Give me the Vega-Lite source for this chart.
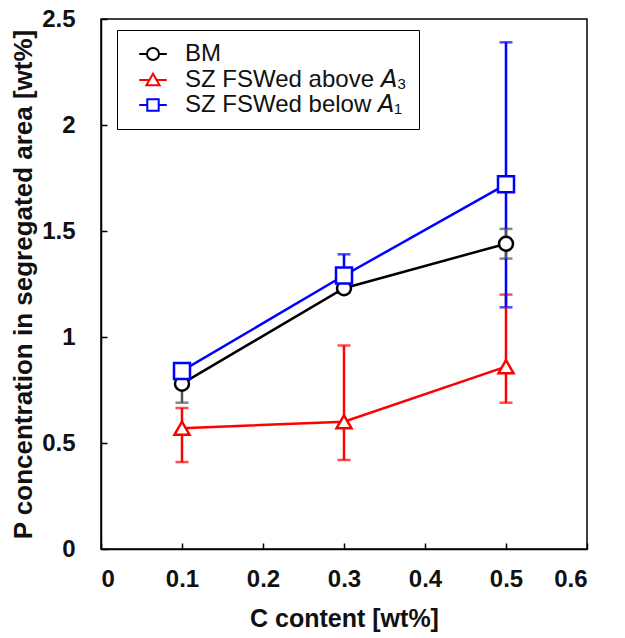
{
  "$schema": "https://vega.github.io/schema/vega-lite/v6.json",
  "width": 486,
  "height": 530,
  "autosize": {"type": "none"},
  "padding": {"left": 101, "top": 19, "right": 38, "bottom": 89},
  "background": "white",
  "config": {
    "font": "Liberation Sans",
    "view": {"stroke": "black", "strokeWidth": 1.5},
    "axis": {
      "grid": false,
      "domainColor": "black",
      "domainWidth": 1.5,
      "tickColor": "black",
      "tickWidth": 1.5,
      "tickSize": -6,
      "labelFont": "Liberation Sans",
      "labelFontWeight": "bold",
      "labelFontSize": 24,
      "labelColor": "#111111",
      "titleFont": "Liberation Sans",
      "titleFontWeight": "bold",
      "titleFontSize": 25,
      "titleColor": "#111111"
    },
    "axisX": {"labelPadding": 24, "titlePadding": 15},
    "axisY": {"labelPadding": 32, "titlePadding": 5, "titleFontSize": 26},
    "legend": {
      "orient": "none",
      "legendX": 16,
      "legendY": 11,
      "strokeColor": "black",
      "fillColor": "white",
      "padding": 12,
      "symbolOffset": 12,
      "labelOffset": 20,
      "labelFont": "Liberation Sans",
      "labelFontSize": 24,
      "labelColor": "#111111",
      "labelLimit": 400,
      "symbolSize": 144,
      "symbolStrokeWidth": 2,
      "symbolFillColor": "white",
      "rowPadding": 1.5
    }
  },
  "data": {
    "values": [
      {"series": "SZ FSWed above 𝘈₃", "c": 0.1, "p": 0.57, "pLow": 0.41, "pHigh": 0.665},
      {"series": "SZ FSWed above 𝘈₃", "c": 0.3, "p": 0.60, "pLow": 0.42, "pHigh": 0.96},
      {"series": "SZ FSWed above 𝘈₃", "c": 0.5, "p": 0.86, "pLow": 0.69, "pHigh": 1.20},
      {"series": "SZ FSWed below 𝘈₁", "c": 0.1, "p": 0.84, "pLow": 0.81, "pHigh": 0.87},
      {"series": "SZ FSWed below 𝘈₁", "c": 0.3, "p": 1.29, "pLow": 1.21, "pHigh": 1.39},
      {"series": "SZ FSWed below 𝘈₁", "c": 0.5, "p": 1.72, "pLow": 1.14, "pHigh": 2.39},
      {"series": "BM", "c": 0.1, "p": 0.78, "pLow": 0.69, "pHigh": 0.86},
      {"series": "BM", "c": 0.3, "p": 1.23, "pLow": 1.21, "pHigh": 1.25},
      {"series": "BM", "c": 0.5, "p": 1.44, "pLow": 1.37, "pHigh": 1.51}
    ]
  },
  "layer": [
    {
      "mark": {"type": "errorbar", "ticks": {"size": 13, "thickness": 2.5}, "rule": {"strokeWidth": 2.5}},
      "encoding": {
        "x": {"field": "c", "type": "quantitative", "title": "C content [wt%]",
              "scale": {"domain": [0, 0.6], "nice": false}, "axis": {"values": [0, 0.1, 0.2, 0.3, 0.4, 0.5, 0.6], "format": "~g"}},
        "y": {"field": "pLow", "type": "quantitative", "title": "P concentration in segregated area [wt%]",
              "scale": {"domain": [0, 2.5], "nice": false}, "axis": {"values": [0, 0.5, 1, 1.5, 2, 2.5], "format": "~g"}},
        "y2": {"field": "pHigh"},
        "color": {"field": "series", "type": "nominal", "legend": null,
                  "scale": {"domain": ["BM", "SZ FSWed above 𝘈₃", "SZ FSWed below 𝘈₁"], "range": ["#555555", "#ff0000", "#0000ff"]}}
      }
    },
    {
      "mark": {"type": "line", "strokeWidth": 2.5},
      "encoding": {
        "x": {"field": "c", "type": "quantitative", "title": "C content [wt%]"},
        "y": {"field": "p", "type": "quantitative", "title": "P concentration in segregated area [wt%]"},
        "color": {"field": "series", "type": "nominal", "legend": null,
                  "scale": {"domain": ["BM", "SZ FSWed above 𝘈₃", "SZ FSWed below 𝘈₁"], "range": ["#000000", "#ff0000", "#0000ff"]}}
      }
    },
    {
      "mark": {"type": "point", "filled": true, "fill": "white", "strokeWidth": 2.5, "opacity": 1},
      "encoding": {
        "x": {"field": "c", "type": "quantitative", "title": "C content [wt%]"},
        "y": {"field": "p", "type": "quantitative", "title": "P concentration in segregated area [wt%]"},
        "order": {"field": "series", "sort": "ascending"},
        "stroke": {"field": "series", "type": "nominal", "legend": null,
                   "scale": {"domain": ["BM", "SZ FSWed above 𝘈₃", "SZ FSWed below 𝘈₁"], "range": ["#000000", "#ff0000", "#0000ff"]}},
        "shape": {"field": "series", "type": "nominal", "legend": null,
                  "scale": {"domain": ["BM", "SZ FSWed above 𝘈₃", "SZ FSWed below 𝘈₁"], "range": ["circle", "triangle-up", "square"]}},
        "size": {"field": "series", "type": "nominal", "legend": null,
                 "scale": {"domain": ["BM", "SZ FSWed above 𝘈₃", "SZ FSWed below 𝘈₁"], "range": [196, 256, 180]}}
      }
    },
    {
      "transform": [{"filter": "false"}],
      "mark": {"type": "point", "filled": true, "fill": "white", "strokeWidth": 2, "opacity": 1},
      "encoding": {
        "x": {"field": "c", "type": "quantitative", "title": "C content [wt%]"},
        "y": {"field": "p", "type": "quantitative", "title": "P concentration in segregated area [wt%]"},
        "stroke": {"field": "series", "type": "nominal", "title": null,
                   "scale": {"domain": ["BM", "SZ FSWed above 𝘈₃", "SZ FSWed below 𝘈₁"], "range": ["#000000", "#ff0000", "#0000ff"]}},
        "shape": {"field": "series", "type": "nominal", "title": null,
                  "scale": {"domain": ["BM", "SZ FSWed above 𝘈₃", "SZ FSWed below 𝘈₁"],
                            "range": [
                              "M-2.3,0H-1M1,0H2.3M-1,0A1,1,0,1,1,1,0A1,1,0,1,1,-1,0Z",
                              "M-2.3,0.1H-0.55M0.55,0.1H2.3M0,-0.95L1.1,0.95L-1.1,0.95Z",
                              "M-2.3,0H-0.95M0.95,0H2.3M-0.95,-0.95H0.95V0.95H-0.95Z"
                            ]}}
      }
    }
  ],
  "resolve": {"scale": {"color": "independent", "stroke": "independent", "shape": "independent", "size": "independent"}}
}
